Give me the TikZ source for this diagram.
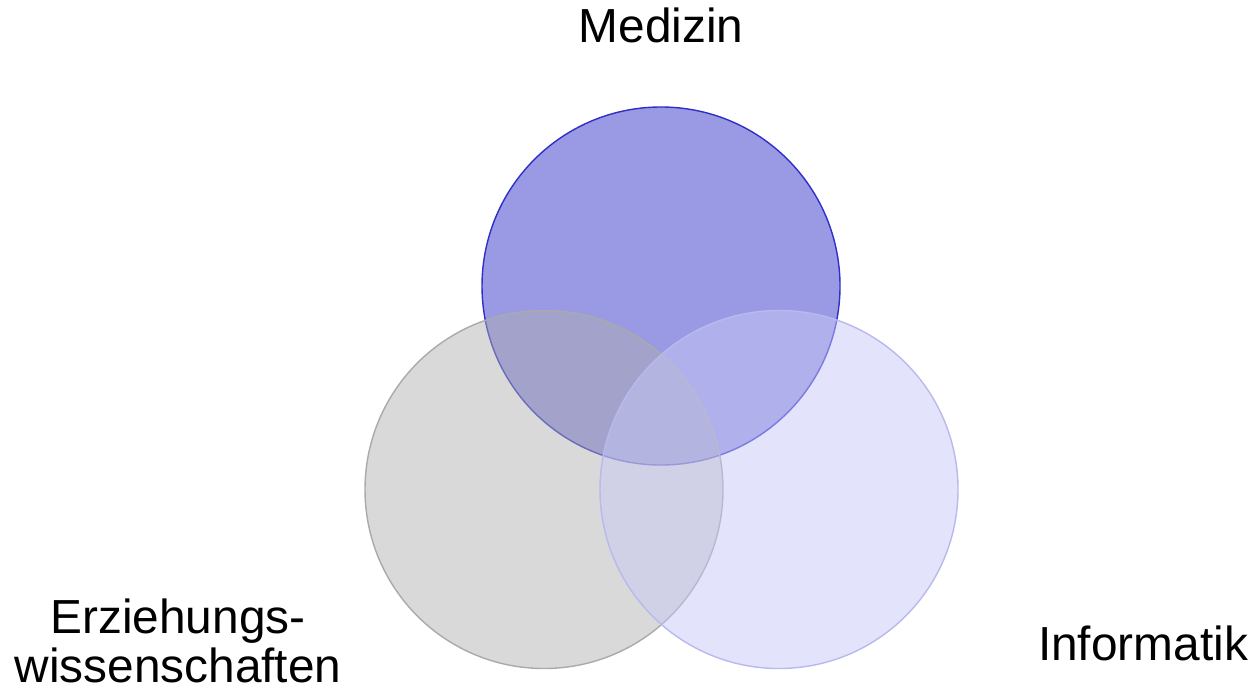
\documentclass[tikz,border=0pt]{standalone}
\usepackage{fontspec}
\setmainfont{Liberation Sans}
\usetikzlibrary{calc}
\definecolor{medfill}{RGB}{153,153,228}
\definecolor{medline}{RGB}{48,48,200}
\definecolor{ewfill}{RGB}{174,174,174}
\definecolor{ewline}{RGB}{170,170,170}
\definecolor{inffill}{RGB}{199,199,247}
\definecolor{infline}{RGB}{185,185,240}

\begin{document}
\begin{tikzpicture} [font=\fontsize{13.6}{13.9}\selectfont, text height=2ex]
  \tikzstyle{field}=[circle,minimum size=3.58cm,inner sep=0pt,line width=0.4pt]
  \tikzstyle{annot} = [text centered, anchor=base, inner sep=0pt, text height=]

  \useasboundingbox (0,0) rectangle (12.57,-6.93);

  \node[field, fill=medfill, draw=medline] (M) at (6.61,-2.86) {};
  \node[field, fill=ewfill, fill opacity=0.47, draw=ewline] (E) at (5.44,-4.895) {};
  \node[field, fill=inffill, fill opacity=0.5, draw=infline] (I) at (7.79,-4.895) {};

  \node[annot] (tm) at (6.61,-0.43) {Medizin};
  \node[annot, align=center] (te) at (1.78,-6.82) {Erziehungs-\\wissenschaften};
  \node[annot] (ti) at (11.43,-6.60) {Informatik};

\end{tikzpicture}
\end{document}
